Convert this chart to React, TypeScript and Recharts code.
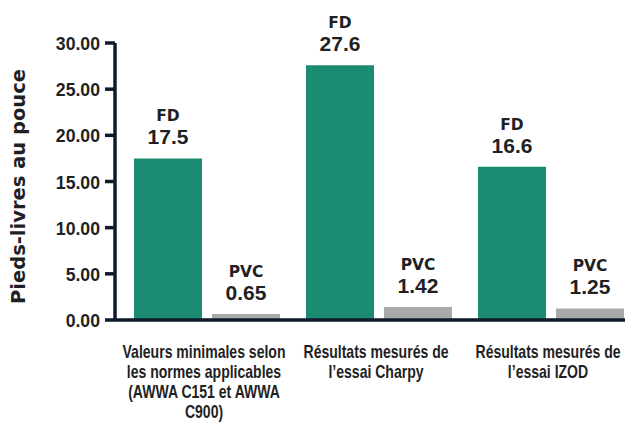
import { BarChart, Bar, XAxis, YAxis, LabelList } from 'recharts';

const categories = [
  'Valeurs minimales selon\nles normes applicables\n(AWWA C151 et AWWA\nC900)',
  'Résultats mesurés de\nl’essai Charpy',
  'Résultats mesurés de\nl’essai IZOD',
];
const fdValues = [17.5, 27.6, 16.6];
const pvcValues = [0.65, 1.42, 1.25];
const fdText = ['17.5', '27.6', '16.6'];
const pvcText = ['0.65', '1.42', '1.25'];
const yTicks = [0, 5, 10, 15, 20, 25, 30];

const data = categories.map((name, i) => ({
  name,
  fd: fdValues[i],
  pvc: pvcValues[i],
  fdText: fdText[i],
  pvcText: pvcText[i],
}));

const narrow = '"Liberation Sans", Arial, sans-serif';
const wide = '"DejaVu Sans", "Noto Sans", sans-serif';
const ink = '#1f1f24';
const axisColor = '#111a2a';

function CategoryTick({ x, y, payload }: any) {
  const lines = String(payload.value).split('\n');
  return (
    <text
      transform={`translate(${x - 3},${y + 30}) scale(0.78,1)`}
      textAnchor="middle"
      fontFamily={narrow}
      fontWeight="bold"
      fontSize={18}
      fill={ink}
    >
      {lines.map((l, i) => (
        <tspan key={i} x={0} dy={i === 0 ? 0 : 20}>
          {l}
        </tspan>
      ))}
    </text>
  );
}

function ValueTick({ x, y, payload }: any) {
  return (
    <text
      transform={`translate(${x - 3},${y + 7}) scale(0.93,1)`}
      textAnchor="end"
      fontFamily={narrow}
      fontWeight="bold"
      fontSize={19}
      fill={ink}
    >
      {Number(payload.value).toFixed(2)}
    </text>
  );
}

function makeLabel(series: string, texts: string[]) {
  return (props: any) => {
    const { x, y, width, index } = props;
    const cx = x + width / 2;
    return (
      <g>
        <text
          x={cx}
          y={y - 37}
          textAnchor="middle"
          fontFamily={wide}
          fontWeight="bold"
          fontSize={15.5}
          fill={ink}
        >
          {series}
        </text>
        <text
          transform={`translate(${cx},${y - 14}) scale(1,1)`}
          textAnchor="middle"
          fontFamily={narrow}
          fontWeight="bold"
          fontSize={21}
          fill={ink}
        >
          {texts[index]}
        </text>
      </g>
    );
  };
}

export default function App() {
  return (
    <div style={{ width: 625, height: 424, overflow: 'hidden', background: '#fff' }}>
      <style>{'body{margin:0}'}</style>
      <BarChart
        width={640}
        height={424}
        data={data}
        margin={{ top: 43, right: 3, bottom: 0, left: 0 }}
        barSize={68}
        barGap={10}
      >
        <XAxis
          dataKey="name"
          height={104}
          padding={{ left: 6, right: 0 }}
          axisLine={{ stroke: axisColor, strokeWidth: 3.5 }}
          tickLine={false}
          tick={<CategoryTick />}
          interval={0}
        />
        <YAxis
          domain={[0, 30]}
          ticks={yTicks}
          width={115}
          axisLine={{ stroke: axisColor, strokeWidth: 3.5 }}
          tickLine={{ stroke: axisColor, strokeWidth: 3.5 }}
          tickSize={10}
          tick={<ValueTick />}
          label={{
            value: 'Pieds-livres au pouce',
            angle: -90,
            position: 'insideLeft',
            offset: 18,
            dy: 5,
            style: {
              textAnchor: 'middle',
              fontFamily: wide,
              fontWeight: 'bold',
              fontSize: 19.5,
              fill: ink,
            },
          }}
        />
        <Bar dataKey="fd" fill="#1b8c72" isAnimationActive={false}>
          <LabelList dataKey="fdText" content={makeLabel('FD', fdText)} />
        </Bar>
        <Bar dataKey="pvc" fill="#a9a9a9" isAnimationActive={false}>
          <LabelList dataKey="pvcText" content={makeLabel('PVC', pvcText)} />
        </Bar>
      </BarChart>
    </div>
  );
}
